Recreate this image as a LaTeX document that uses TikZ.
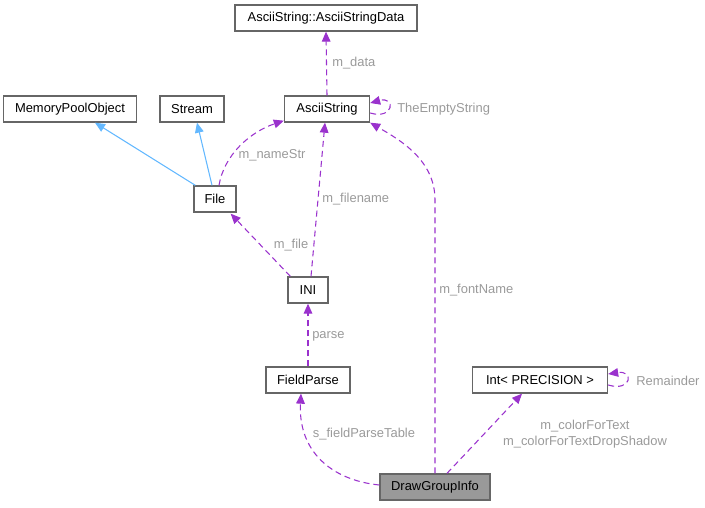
\documentclass[tikz,border=0pt]{standalone}
\usepackage{fontspec}
\setmainfont{Liberation Sans}
\usetikzlibrary{arrows.meta,calc}
\definecolor{edgepurple}{HTML}{9A32CD}
\definecolor{edgeblue}{HTML}{63B8FF}
\definecolor{labelgray}{HTML}{9A9A9A}
\definecolor{boxgray}{HTML}{666666}
\definecolor{fillgray}{HTML}{999999}
\tikzset{
  cls/.style={draw=boxgray, line width=1pt, fill=white, minimum height=19.5pt, inner sep=0pt, font=\fontsize{9.7}{11}\selectfont},
  inh/.style={draw=edgeblue, line width=0.8pt, -{Triangle[length=7.5pt,width=6.5pt,fill=edgeblue]}},
  use/.style={draw=edgepurple, line width=0.8pt, dash pattern=on 4.5pt off 3pt, -{Triangle[length=7.5pt,width=6.5pt,fill=edgepurple]}},
  lbl/.style={text=labelgray, font=\fontsize{9.7}{11.5}\selectfont, inner sep=0pt, align=center}
}
\begin{document}
\begin{tikzpicture}[x=0.75pt,y=-0.75pt]
\useasboundingbox (0,0) rectangle (705,507);
% nodes
\node[cls, minimum width=136.5pt] (data) at (326,18) {AsciiString::AsciiStringData};
\node[cls, minimum width=63.75pt] (asc) at (327,109) {AsciiString};
\node[cls, minimum width=99.75pt] (mpo) at (70,109) {MemoryPoolObject};
\node[cls, minimum width=48pt] (stream) at (192,109) {Stream};
\node[cls, minimum width=31.5pt] (file) at (215,199) {File};
\node[cls, minimum width=30pt] (ini) at (308,290) {INI};
\node[cls, minimum width=63pt] (fp) at (308,380) {FieldParse};
\node[cls, minimum width=101.25pt] (int) at (540,380) {Int< PRECISION >};
\node[cls, minimum width=82.5pt, fill=fillgray] (dgi) at (435,487) {DrawGroupInfo};
% inheritance
\draw[inh] ($(file.north west)+(2,0)$) -- ($(mpo.south)+(25,0)$);
\draw[inh] ($(file.north)+(-3,0)$) -- ($(stream.south)+(5,0)$);
% usage
\draw[use] ($(file.north)+(4,0)$) .. controls (224,155) and (250,132) .. ($(asc.south west)+(0,-2)$);
\draw[use] (asc.north) -- (data.south);
\draw[use] ($(asc.east)+(0,4)$) .. controls (394,120) and (396,96) .. ($(asc.east)+(0,-6)$);
\draw[use] ($(ini.north west)+(3,0)$) -- ($(file.south east)+(-6,1)$);
\draw[use] ($(ini.north)+(3,0)$) -- ($(asc.south)+(-2,0)$);
\draw[use] (fp.north) -- (ini.south);
\draw[use] ($(dgi.west)+(0,-2)$) .. controls (330,480) and (298,450) .. ($(fp.south)+(-7,0)$);
\draw[use] (dgi.north) -- (435,200) .. controls (435,160) and (400,140) .. (asc.south east);
\draw[use] ($(dgi.north)+(12,0)$) -- ($(int.south)+(-18,0)$);
\draw[use] ($(int.east)+(0,5)$) .. controls (632,392) and (634,370) .. ($(int.east)+(0,-6)$);
% labels
\node[lbl, anchor=west] (l1) at (332,63) {m\_data};
\node[lbl, anchor=west] (l2) at (397,109) {TheEmptyString};
\node[lbl] (l3) at (272,155) {m\_nameStr};
\node[lbl, anchor=west] (l4) at (322,199) {m\_filename};
\node[lbl] (l5) at (291,245) {m\_file};
\node[lbl, anchor=west] (l6) at (312,336) {parse};
\node[lbl, anchor=west] (l7) at (439,290) {m\_fontName};
\node[lbl] (l8) at (364,434) {s\_fieldParseTable};
\node[lbl] (l9) at (585,434) {m\_colorForText\\m\_colorForTextDropShadow};
\node[lbl, anchor=west] (l10) at (636,381) {Remainder};
\end{tikzpicture}
\end{document}
